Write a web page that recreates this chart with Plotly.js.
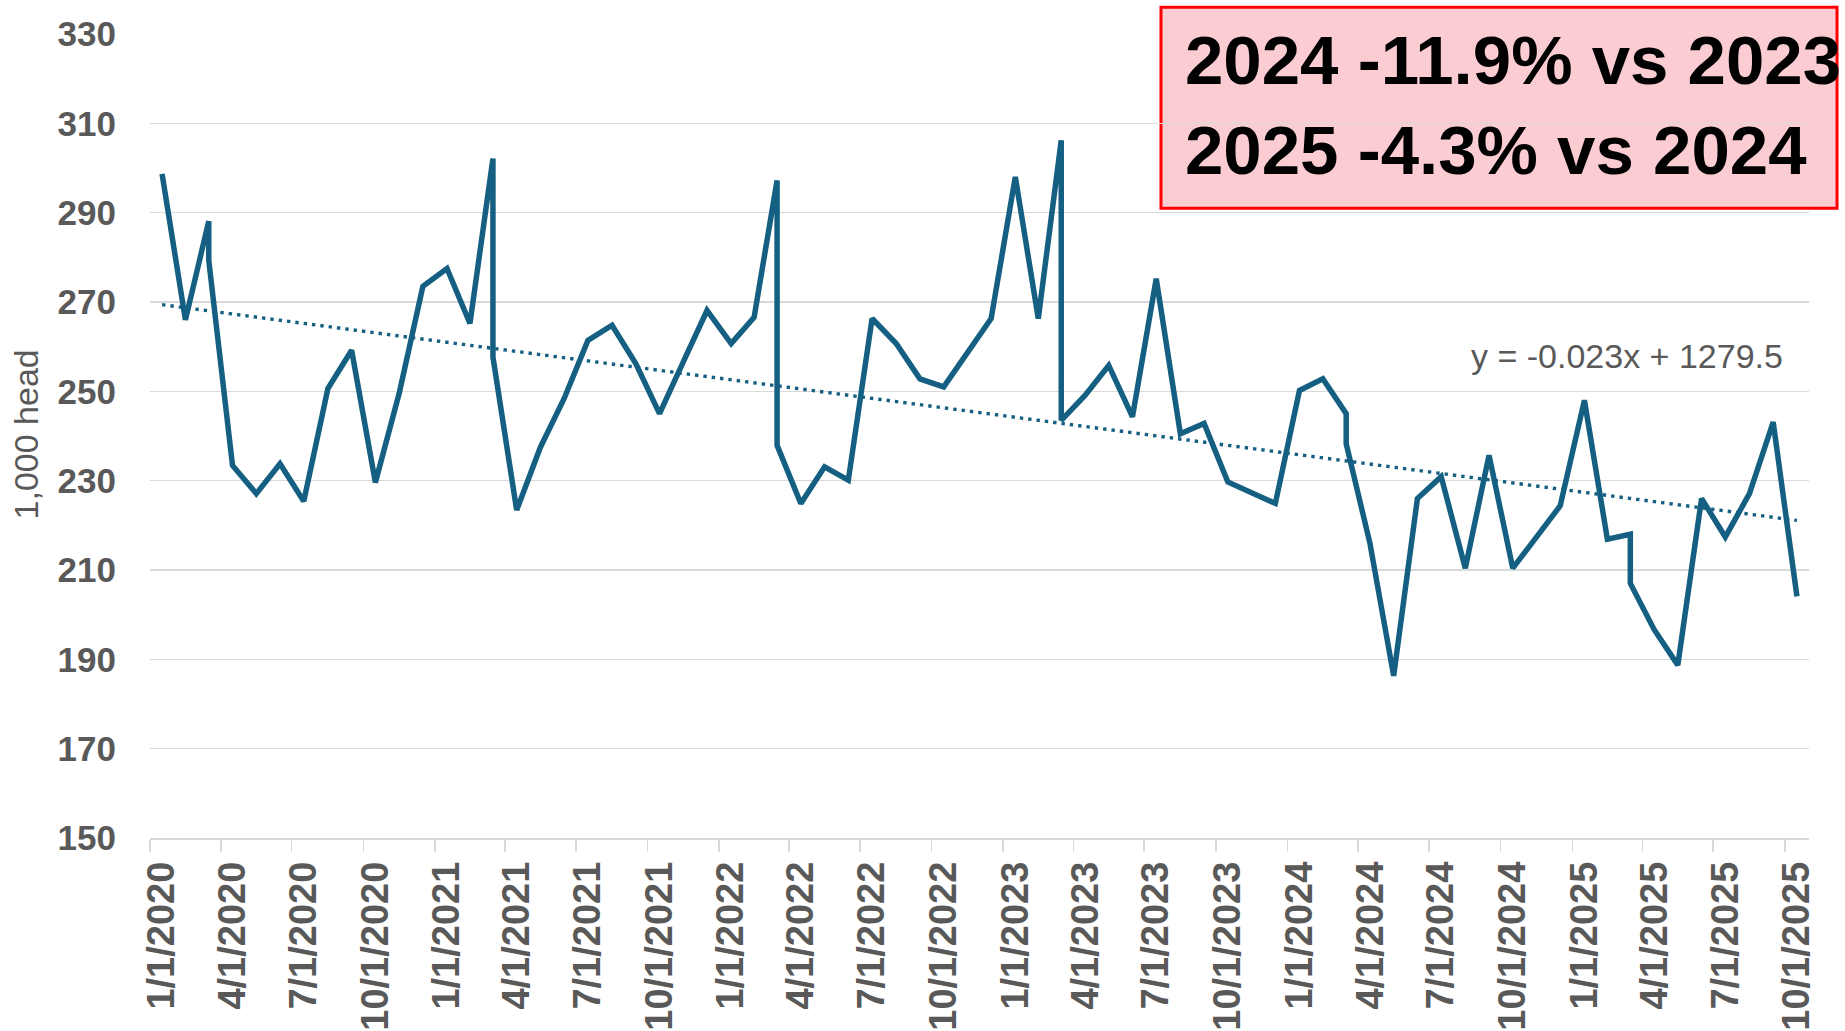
<!DOCTYPE html>
<html>
<head>
<meta charset="utf-8">
<script src="https://cdn.plot.ly/plotly-3.0.1.min.js"></script>
<style>
  html, body { margin: 0; padding: 0; background: #ffffff; }
  #chart { width: 1845px; height: 1031px; }
</style>
</head>
<body>
<div id="chart"></div>
<script>
// ---- Data ----
// Month of each observation (March appears twice each year in the source)
const months = [
  '2020-01','2020-02','2020-03','2020-03','2020-04','2020-05','2020-06','2020-07','2020-08','2020-09','2020-10','2020-11','2020-12',
  '2021-01','2021-02','2021-03','2021-03','2021-04','2021-05','2021-06','2021-07','2021-08','2021-09','2021-10','2021-11','2021-12',
  '2022-01','2022-02','2022-03','2022-03','2022-04','2022-05','2022-06','2022-07','2022-08','2022-09','2022-10','2022-11','2022-12',
  '2023-01','2023-02','2023-03','2023-03','2023-04','2023-05','2023-06','2023-07','2023-08','2023-09','2023-10','2023-11','2023-12',
  '2024-01','2024-02','2024-03','2024-03','2024-04','2024-05','2024-06','2024-07','2024-08','2024-09','2024-10','2024-11','2024-12',
  '2025-01','2025-02','2025-03','2025-03','2025-04','2025-05','2025-06','2025-07','2025-08','2025-09','2025-10'
];
// 1,000 head
const headValues = [
  298.7, 266.0, 288.1, 279.3, 233.4, 227.1, 233.8, 225.4, 250.6, 259.2, 229.6, 249.5, 273.5,
  277.5, 265.2, 302.1, 257.7, 223.4, 237.5, 248.4, 261.4, 264.8, 256.2, 245.0, 256.6, 268.1,
  260.7, 266.6, 297.2, 237.9, 224.9, 233.1, 230.1, 266.3, 260.7, 252.8, 251.0, 258.4, 266.3,
  298.0, 266.3, 306.2, 243.5, 249.1, 255.8, 244.3, 275.2, 240.5, 242.8, 229.7, 227.2, 224.9,
  250.2, 252.8, 245.0, 238.3, 216.0, 186.3, 226.0, 230.9, 210.4, 235.7, 210.4, 217.4, 224.4,
  248.0, 216.9, 218.0, 207.0, 196.7, 188.7, 226.0, 217.4, 227.1, 243.1, 204.1
];
// Linear trendline values at the first and last observation (as drawn)
const trendValues = [269.4, 221.1];
const trendLabel = 'y = -0.023x + 1279.5';
const noteLines = ['2024 -11.9% vs 2023', '2025 -4.3% vs 2024'];
const yTitle = '1,000 head';

// ---- Helpers: place each monthly point at the middle of its month ----
function midMonth(ym) {
  const [y, m] = ym.split('-').map(Number);
  const a = Date.UTC(y, m - 1, 1), b = Date.UTC(y, m, 1);
  return new Date((a + b) / 2).toISOString().replace('T', ' ').slice(0, 19);
}
const xDates = months.map(midMonth);
const trendX = [xDates[0], xDates[xDates.length - 1]];

const lineColor = '#156082';
const gray = '#595959';
const grid = '#D9D9D9';
const fam = 'Liberation Sans, Arial, sans-serif';

const traces = [
  {
    type: 'scatter', mode: 'lines', x: trendX, y: trendValues,
    line: { color: lineColor, width: 3.4, dash: '3.4px,5px' },
    hoverinfo: 'skip', showlegend: false
  },
  {
    type: 'scatter', mode: 'lines', x: xDates, y: headValues,
    line: { color: lineColor, width: 5.5 },
    showlegend: false
  }
];

const layout = {
  width: 1845, height: 1031,
  margin: { l: 150, r: 36, t: 34, b: 193, pad: 0 },
  paper_bgcolor: '#ffffff', plot_bgcolor: '#ffffff',
  showlegend: false,
  font: { family: fam, color: gray },
  xaxis: {
    type: 'date',
    range: ['2020-01-01', '2025-11-01'],
    tick0: '2020-01-01', dtick: 'M3',
    tickformat: '%-m/%-d/%Y',
    tickangle: -90,
    ticks: 'outside', ticklen: 12, tickwidth: 1.5, tickcolor: grid,
    showline: true, linecolor: grid, linewidth: 1.5,
    showgrid: false, zeroline: false,
    ticklabelshift: 12,
    ticklabelstandoff: -5,
    tickfont: { family: fam, size: 38, color: gray, weight: 'bold' },
    automargin: false, fixedrange: true
  },
  yaxis: {
    range: [150, 330], tick0: 150, dtick: 20,
    showgrid: true, gridcolor: grid, gridwidth: 1.5,
    zeroline: false, showline: false, ticks: '',
    ticklabelstandoff: 33,
    tickfont: { family: fam, size: 35, color: gray, weight: 'bold' },
    automargin: false, fixedrange: true
  },
  shapes: [
    {
      type: 'rect', xref: 'paper', yref: 'paper', layer: 'below',
      x0: 0.6094, x1: 1.0169, y0: 0.7832, y1: 1.0332,
      fillcolor: '#FBCDD3', line: { color: '#FF0000', width: 3 }
    }
  ],
  annotations: [
    {
      xref: 'paper', yref: 'paper', x: 0.6227, y: 0.9665,
      xanchor: 'left', yanchor: 'middle', showarrow: false,
      text: noteLines[0],
      font: { family: fam, size: 69, color: '#000000', weight: 'bold' }
    },
    {
      xref: 'paper', yref: 'paper', x: 0.6227, y: 0.8555,
      xanchor: 'left', yanchor: 'middle', showarrow: false,
      text: noteLines[1],
      font: { family: fam, size: 69, color: '#000000', weight: 'bold' }
    },
    {
      xref: 'paper', yref: 'paper', x: 0.8905, y: 0.600,
      xanchor: 'center', yanchor: 'middle', showarrow: false,
      text: trendLabel,
      font: { family: fam, size: 34, color: gray }
    },
    {
      xref: 'paper', yref: 'paper', x: -0.0747, y: 0.502,
      xanchor: 'center', yanchor: 'middle', showarrow: false,
      textangle: -90,
      text: yTitle,
      font: { family: fam, size: 34, color: gray }
    }
  ]
};

Plotly.newPlot('chart', traces, layout, { staticPlot: true, displayModeBar: false });
</script>
</body>
</html>
